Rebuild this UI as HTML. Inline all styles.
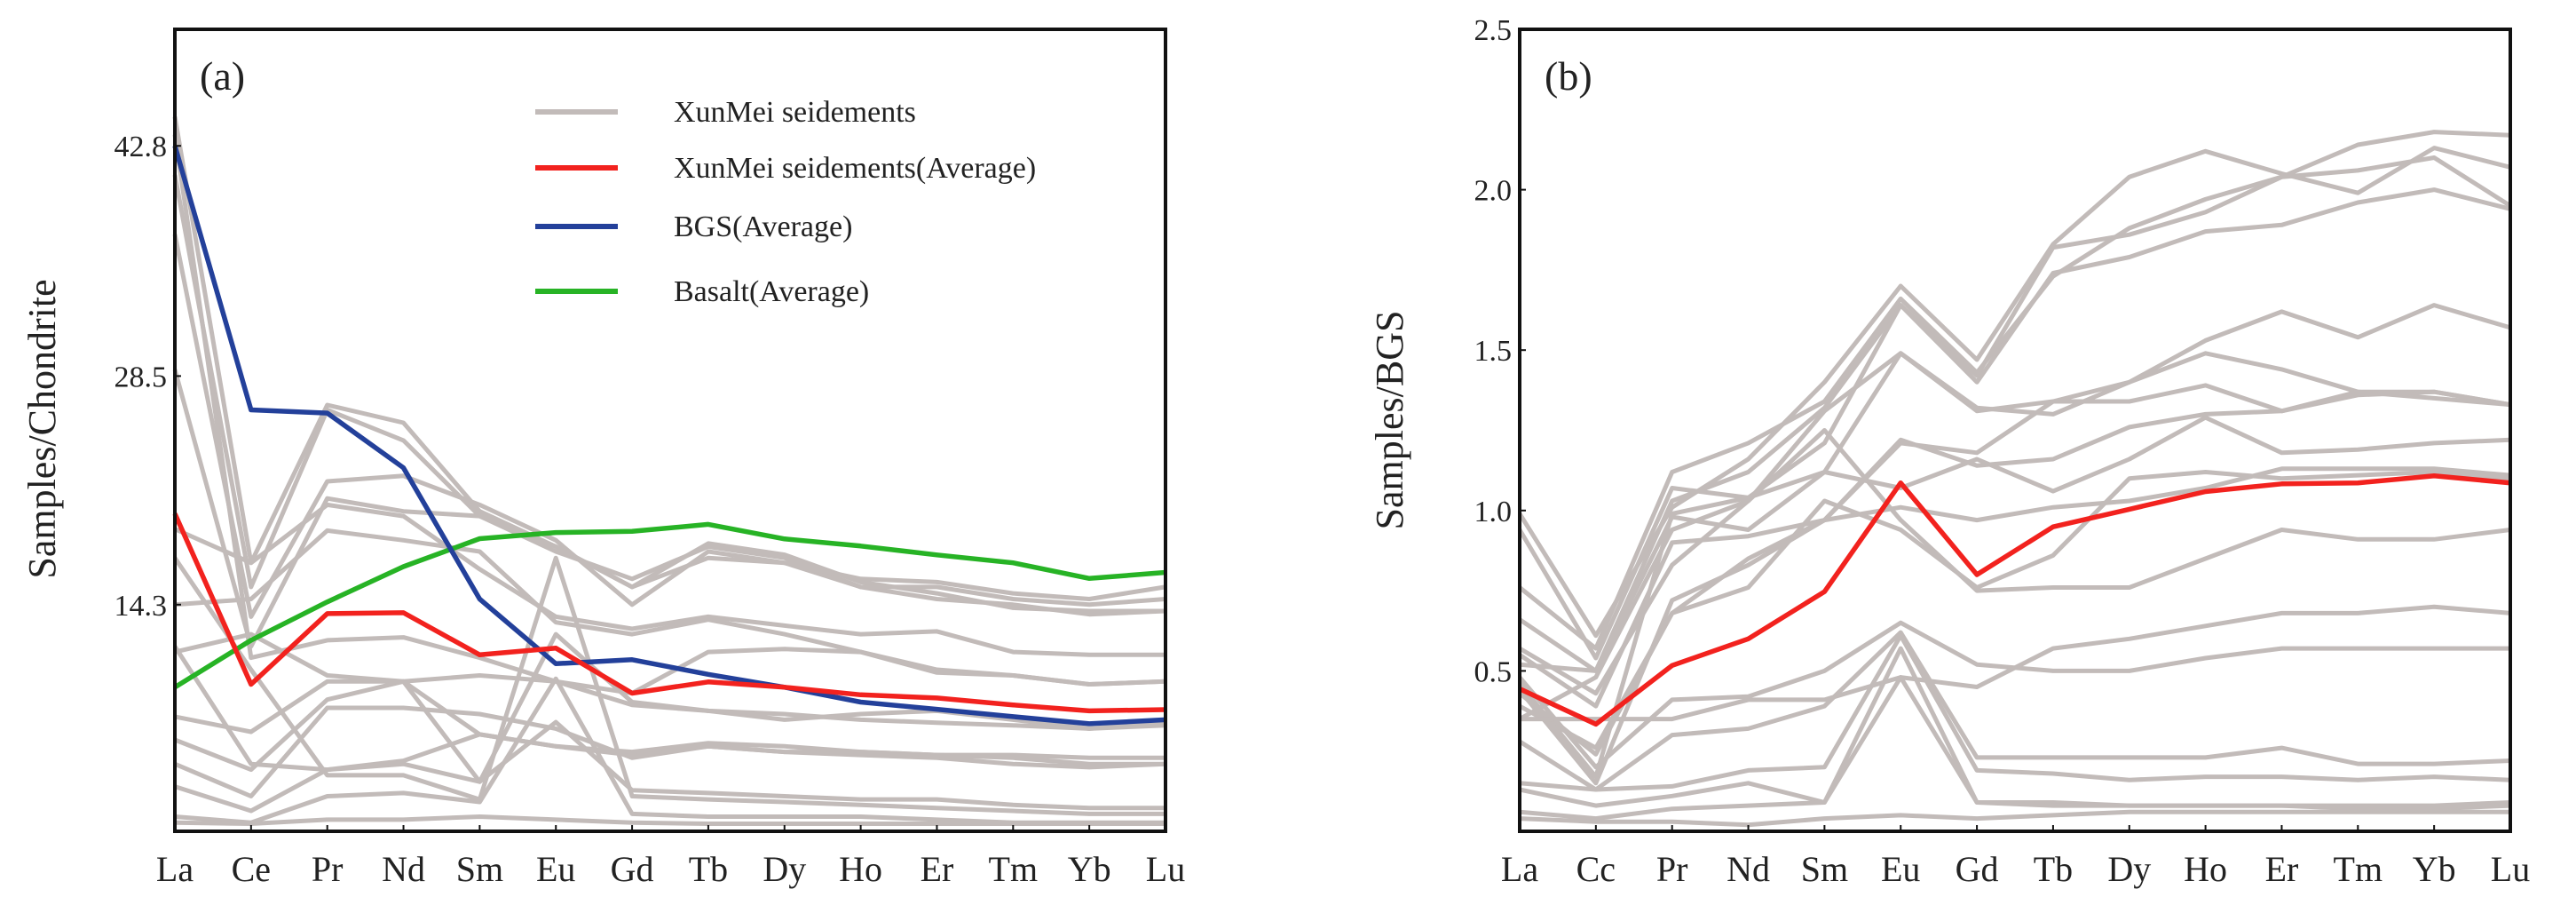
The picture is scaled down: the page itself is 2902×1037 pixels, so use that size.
<!DOCTYPE html>
<html><head><meta charset="utf-8"><style>
html,body{margin:0;padding:0;background:#fff;}
svg{display:block;}
text{font-family:"Liberation Serif",serif;fill:#222;}
</style></head><body>
<svg id="chart" width="2902" height="1037" viewBox="0 0 2902 1037" xmlns="http://www.w3.org/2000/svg">
<g id="panelA"></g>
<g id="panelB"></g>
</svg>
<script>
const categoriesA = ["La","Ce","Pr","Nd","Sm","Eu","Gd","Tb","Dy","Ho","Er","Tm","Yb","Lu"];
const categoriesB = ["La","Cc","Pr","Nd","Sm","Eu","Gd","Tb","Dy","Ho","Er","Tm","Yb","Lu"];
const ticksA = [14.3, 28.5, 42.8];
const ticksB = [0.5, 1.0, 1.5, 2.0, 2.5];
const avgA = [19.95,9.35,13.74,13.8,11.18,11.6,8.8,9.5,9.17,8.7,8.5,8.07,7.7,7.78];
const bgsA = [42.8,26.4,26.2,22.8,14.65,10.63,10.88,9.97,9.17,8.25,7.8,7.34,6.9,7.15];
const basaltA = [9.17,12.09,14.47,16.66,18.4,18.78,18.85,19.29,18.38,17.94,17.39,16.9,15.93,16.3];
const grayA1 = [44.6,16.9,26.7,25.6,20.1,17.9,15.4,18.1,17.4,15.7,15.0,14.1,13.9,13.9];
const grayA2 = [41.0,15.4,26.4,24.5,19.8,17.6,15.9,17.9,17.2,15.4,14.65,14.3,13.7,13.9];
const grayA3 = [37.3,13.55,21.96,22.3,20.5,18.3,14.3,17.6,16.9,15.4,15.4,14.65,14.3,14.65];
const grayA4 = [28.9,11.7,20.9,20.1,19.8,17.9,15.4,17.2,16.9,15.9,15.7,15.0,14.65,15.4];
const grayA5 = [19.0,16.9,20.5,19.8,16.5,13.55,12.8,13.55,13.0,12.46,12.64,11.36,11.18,11.18];
const grayA6 = [14.3,14.65,18.9,18.3,17.6,13.2,12.46,13.37,12.46,11.36,10.26,9.9,9.35,9.53];
const grayA7 = [11.36,12.46,9.9,9.53,9.9,9.53,8.8,11.36,11.54,11.36,10.08,9.9,9.35,9.53];
const grayA8 = [7.34,6.4,9.53,9.53,6.24,5.5,4.96,5.5,5.15,5.15,4.96,4.96,4.78,4.78];
const grayA9 = [5.9,4.05,8.4,9.53,3.3,12.46,8.25,7.7,7.15,7.5,7.7,7.15,6.6,6.97];
const grayA10 = [4.4,2.4,7.89,7.89,7.5,6.6,4.78,5.5,5.15,4.96,4.78,4.4,4.2,4.4];
const grayA11 = [3.0,1.49,4.05,4.4,3.3,7.0,2.77,2.6,2.4,2.2,2.2,1.86,1.67,1.67];
const grayA12 = [1.13,0.76,2.4,2.6,2.04,9.7,1.3,1.13,1.13,1.13,0.94,0.76,0.76,0.76];
const grayA13 = [0.76,0.69,0.94,0.94,1.13,0.94,0.76,0.69,0.69,0.69,0.69,0.69,0.69,0.69];
const grayA14 = [17.2,10.26,3.7,3.7,2.2,17.2,2.4,2.2,2.04,1.86,1.67,1.49,1.3,1.3];
const grayA15 = [11.7,4.4,4.05,4.6,6.24,5.5,5.15,5.7,5.5,5.15,4.96,4.78,4.4,4.4];
const grayA16 = [43.5,11.0,12.09,12.27,11.0,9.53,8.07,7.7,7.5,7.15,6.97,6.8,6.6,6.8];
const avgB = [0.444,0.334,0.517,0.6,0.747,1.086,0.8,0.949,1.004,1.059,1.083,1.086,1.108,1.086];
const grayB1 = [.52,.50,1.03,1.12,1.32,1.64,1.42,1.82,1.86,1.93,2.04,2.14,2.18,2.17];
const grayB2 = [.99,.61,1.01,1.16,1.40,1.70,1.47,1.83,2.04,2.12,2.05,1.99,2.13,2.07];
const grayB3 = [.76,.57,1.12,1.21,1.34,1.66,1.43,1.73,1.88,1.97,2.04,2.06,2.10,1.95];
const grayB4 = [.94,.54,1.07,1.04,1.21,1.64,1.40,1.74,1.79,1.87,1.89,1.96,2.00,1.94];
const grayB5 = [.66,.50,.98,.94,1.12,1.49,1.31,1.34,1.40,1.53,1.62,1.54,1.64,1.57];
const grayB6 = [.57,.43,.83,1.03,1.31,1.49,1.32,1.30,1.40,1.49,1.44,1.37,1.37,1.33];
const grayB7 = [.55,.39,.90,.92,.97,1.21,1.18,1.34,1.34,1.39,1.31,1.37,1.35,1.33];
const grayB8 = [.44,.15,.72,.83,.97,1.22,1.14,1.16,1.26,1.30,1.31,1.36,1.37,1.33];
const grayB9 = [.46,.17,.99,1.04,1.12,1.07,1.16,1.06,1.16,1.29,1.18,1.19,1.21,1.22];
const grayB10 = [.39,.26,.68,.85,.97,1.01,.97,1.01,1.03,1.07,1.13,1.13,1.13,1.11];
const grayB11 = [.35,.48,.94,1.03,1.25,.97,.75,.76,.76,.85,.94,.91,.91,.94];
const grayB12 = [.43,.24,.68,.76,1.03,.94,.76,.86,1.10,1.12,1.10,1.11,1.12,1.10];
const grayB13 = [.35,.35,.35,.41,.41,.48,.45,.57,.60,.64,.68,.68,.70,.68];
const grayB14 = [.48,.20,.41,.42,.50,.65,.52,.50,.50,.54,.57,.57,.57,.57];
const grayB15 = [.28,.13,.30,.32,.39,.62,.23,.23,.23,.23,.26,.21,.21,.22];
const grayB16 = [.15,.13,.14,.19,.20,.61,.19,.18,.16,.17,.17,.16,.17,.16];
const grayB17 = [.13,.08,.11,.15,.09,.57,.09,.09,.08,.08,.08,.08,.08,.09];
const grayB18 = [.06,.04,.07,.08,.09,.48,.09,.08,.08,.08,.08,.07,.07,.08];
const grayB19 = [.04,.03,.03,.02,.04,.05,.04,.05,.06,.06,.06,.06,.06,.06];

const NS = "http://www.w3.org/2000/svg";
function mk(parent, tag, attrs, txt){
  const e = document.createElementNS(NS, tag);
  for (const k in attrs) e.setAttribute(k, attrs[k]);
  if (txt !== undefined) e.textContent = txt;
  parent.appendChild(e);
  return e;
}
const GRAY = "#c2bbb9";

function drawPanel(g, box, cats, yMin, yMax, ticks, tickFmt, grays, colored, yTitle, tag, titleY){
  const x = i => box.l + i * (box.r - box.l) / (cats.length - 1);
  const y = v => box.b - (v - yMin) / (yMax - yMin) * (box.b - box.t);
  const pathOf = arr => arr.map((v,i)=>(i?"L":"M")+x(i).toFixed(1)+","+y(v).toFixed(1)).join("");
  grays.forEach(arr=>{
    const p = mk(g,"path",{d:pathOf(arr),fill:"none",stroke:GRAY,"stroke-width":5,"stroke-linejoin":"round"});
    
    
  });
  colored.forEach(s=>{
    const p = mk(g,"path",{d:pathOf(s.data),fill:"none",stroke:s.color,"stroke-width":5.5,"stroke-linejoin":"round"});
    
    
  });
  const frame = mk(g,"rect",{x:box.l,y:box.t,width:box.r-box.l,height:box.b-box.t,fill:"none",stroke:"#111","stroke-width":4});
  
  
  cats.forEach((c,i)=>{
    const tk = mk(g,"line",{x1:x(i),x2:x(i),y1:box.b,y2:box.b-7,stroke:"#111","stroke-width":2});
    
    
    const t = mk(g,"text",{x:x(i),y:box.b+56,"text-anchor":"middle","font-size":40},c);
    
    
  });
  ticks.forEach(v=>{
    const tk = mk(g,"line",{x1:box.l,x2:box.l+7,y1:y(v),y2:y(v),stroke:"#111","stroke-width":2});
    
    
    const t = mk(g,"text",{x:box.l-9,y:y(v)+12,"text-anchor":"end","font-size":34},tickFmt(v));
    
    
  });
  const tt = mk(g,"text",{x:0,y:0,"text-anchor":"middle","font-size":44,"font-family":"Liberation Sans, sans-serif",transform:"translate("+yTitle.x+","+titleY+") rotate(-90)"},yTitle.text);
  
  
  const pl = mk(g,"text",{x:box.l+28,y:box.t+68,"font-size":46},tag);
  
  
  return {x,y};
}

const gA = document.getElementById("panelA");
drawPanel(gA,{l:197,r:1313,t:33,b:936},categoriesA,0.22,50.04,ticksA,v=>v.toFixed(1),
  [grayA1,grayA2,grayA3,grayA4,grayA5,grayA6,grayA7,grayA8,grayA9,grayA10,grayA11,grayA12,grayA13,grayA14,grayA15,grayA16],
  [{data:basaltA,color:"#27b325",name:"basalt-average-line"},{data:bgsA,color:"#23409a",name:"bgs-average-line"},{data:avgA,color:"#f2221e",name:"xunmei-average-line"}],
  {x:62,text:"Samples/Chondrite"},"(a)",483);

const legendItems = [["XunMei  seidements",GRAY,126],["XunMei seidements(Average)","#f2221e",189],["BGS(Average)","#23409a",255],["Basalt(Average)","#27b325",328]];
const lg = mk(gA,"g",{});


legendItems.forEach(it=>{
  const ln = mk(lg,"line",{x1:603,x2:696,y1:it[2],y2:it[2],stroke:it[1],"stroke-width":6});
  
  
  const t = mk(lg,"text",{x:759,y:it[2]+11,"font-size":34},it[0]);
  
  
});

const gB = document.getElementById("panelB");
drawPanel(gB,{l:1712,r:2828,t:33,b:936},categoriesB,0,2.5,ticksB,v=>v.toFixed(1),
  [grayB1,grayB2,grayB3,grayB4,grayB5,grayB6,grayB7,grayB8,grayB9,grayB10,grayB11,grayB12,grayB13,grayB14,grayB15,grayB16,grayB17,grayB18,grayB19],
  [{data:avgB,color:"#f2221e",name:"xunmei-average-line"}],
  {x:1580,text:"Samples/BGS"},"(b)",473);
</script>
</body></html>
